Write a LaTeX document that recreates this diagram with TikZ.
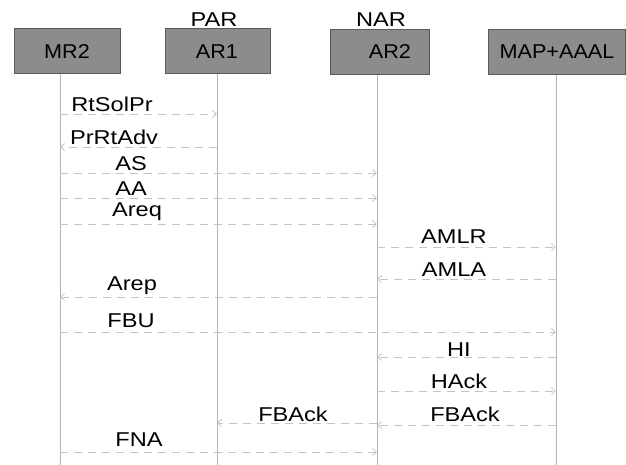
\documentclass[tikz,border=0pt]{standalone}
\usepackage{fontspec}
\setmainfont{Liberation Sans}[FakeStretch=1.18]
\newfontfamily\boxfont{Liberation Sans}[FakeStretch=1.08]
\usetikzlibrary{arrows.meta}
\definecolor{boxfill}{HTML}{8C8C8C}
\definecolor{boxline}{HTML}{5A5A5A}
\definecolor{lifeline}{HTML}{B4B4B4}
\definecolor{msgcol}{HTML}{C4C4C4}
\begin{document}
\begin{tikzpicture}[x=1pt,y=-1pt,
  entity/.style={draw=boxline,line width=1pt,fill=boxfill,minimum height=45pt,inner sep=0pt},
  enttext/.style={font=\boxfont\fontsize{20}{22}\selectfont,text=black,inner sep=0pt},
  lbl/.style={font=\fontsize{20}{22}\selectfont,inner sep=0pt},
  life/.style={draw=lifeline,line width=0.8pt},
  msg/.style={draw=msgcol,line width=0.8pt,dash pattern=on 8pt off 6pt,
    -{Straight Barb[length=4pt,width=7pt]}}]
\useasboundingbox (0,0) rectangle (626,465);
% entity boxes
\node[entity,minimum width=106pt] (bmr2) at (67,51.5) {};
\node[entity,minimum width=105pt] (bar1) at (217.5,51.5) {};
\node[entity,minimum width=99pt] (bar2) at (379.5,52) {};
\node[entity,minimum width=137pt] (bmap) at (556.5,52) {};
\node[enttext] (tmr2) at (67,52) {MR2};
\node[enttext] (tar1) at (217,52) {AR1};
\node[enttext] (tar2) at (390,52) {AR2};
\node[enttext] (tmap) at (557,52) {MAP+AAAL};
\node[lbl] (par) at (214,20) {PAR};
\node[lbl] (nar) at (381,20) {NAR};
% lifelines
\coordinate (mr2top) at (60,74);
\coordinate (ar1top) at (217,74);
\coordinate (ar2top) at (377,75);
\coordinate (maptop) at (556,75);
\coordinate (mr2) at (60,465);
\coordinate (ar1) at (217,465);
\coordinate (ar2) at (377,465);
\coordinate (map) at (556,465);
\draw[life] (mr2top) -- (mr2);
\draw[life] (ar1top) -- (ar1);
\draw[life] (ar2top) -- (ar2);
\draw[life] (maptop) -- (map);
% messages
\draw[msg] (mr2 |- 0,114) -- (ar1 |- 0,114);
\draw[msg] (ar1 |- 0,147) -- (mr2 |- 0,147);
\draw[msg] (mr2 |- 0,173) -- (ar2 |- 0,173);
\draw[msg] (mr2 |- 0,198) -- (ar2 |- 0,198);
\draw[msg] (mr2 |- 0,224) -- (ar2 |- 0,224);
\draw[msg] (ar2 |- 0,247) -- (map |- 0,247);
\draw[msg] (map |- 0,279) -- (ar2 |- 0,279);
\draw[msg] (ar2 |- 0,297) -- (mr2 |- 0,297);
\draw[msg] (mr2 |- 0,332) -- (map |- 0,332);
\draw[msg] (map |- 0,357) -- (ar2 |- 0,357);
\draw[msg] (ar2 |- 0,391) -- (map |- 0,391);
\draw[msg] (map |- 0,425) -- (ar2 |- 0,425);
\draw[msg] (ar2 |- 0,423) -- (ar1 |- 0,423);
\draw[msg] (mr2 |- 0,452) -- (ar2 |- 0,452);
% labels
\node[lbl] (l1) at (112,104) {RtSolPr};
\node[lbl] (l2) at (114,137) {PrRtAdv};
\node[lbl] (l3) at (131,164) {AS};
\node[lbl] (l4) at (131,189) {AA};
\node[lbl] (l5) at (137,212) {Areq};
\node[lbl] (l6) at (454,237) {AMLR};
\node[lbl] (l7) at (454,270) {AMLA};
\node[lbl] (l8) at (132,286) {Arep};
\node[lbl] (l9) at (131,321) {FBU};
\node[lbl] (l10) at (459,350) {HI};
\node[lbl] (l11) at (459,381) {HAck};
\node[lbl] (l12) at (465,414) {FBAck};
\node[lbl] (l13) at (293,414) {FBAck};
\node[lbl] (l14) at (139,440) {FNA};
\end{tikzpicture}
\end{document}
